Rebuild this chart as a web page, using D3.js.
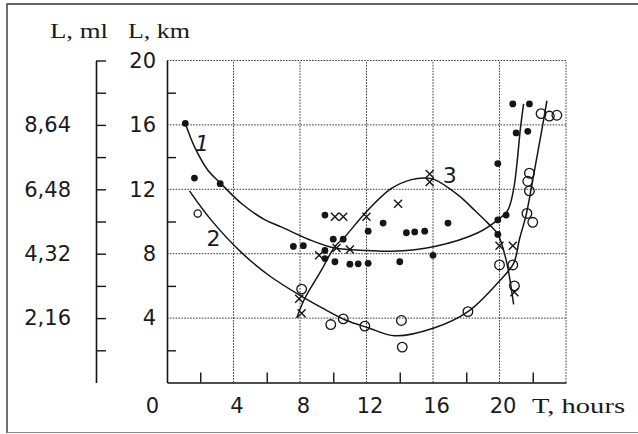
<!DOCTYPE html>
<html><head><meta charset="utf-8">
<script src="https://cdn.jsdelivr.net/npm/d3@7"></script>
<style>body{margin:0;background:#fff}svg{display:block}</style>
</head><body>
<svg id="c" width="638" height="434"></svg>
<script>
// ---- data ----
const kmTicks = [4, 8, 12, 16, 20];
const kmMinor = [2, 6, 10, 14, 18];
const xTicks = [0, 4, 8, 12, 16, 20];
const xMinor = [2, 6, 10, 14, 18, 22];
const gridX = [4, 8, 12, 16, 20, 24];
const gridY = [4, 8, 12, 16, 20];
const mlLabels = [2.16, 4.32, 6.48, 8.64];
const mlMinor = [1.08, 2.16, 3.24, 4.32, 5.40, 6.48, 7.56, 8.64, 9.72, 10.8];

const dots = [[1.1,16.1],[1.65,12.7],[3.2,12.35],[7.6,8.45],[8.2,8.5],[9.5,10.4],[10.0,8.9],[10.6,8.9],
  [9.5,8.2],[9.5,7.7],[10.1,7.5],[11.0,7.35],[11.5,7.37],[12.1,7.4],[12.1,9.4],[13.0,9.9],[14.0,7.5],
  [14.4,9.3],[14.9,9.35],[15.5,9.4],[16.0,7.9],[16.9,9.9],[19.9,13.6],[19.9,10.1],[20.4,10.4],[19.9,9.2],
  [20.8,17.3],[21.8,17.3],[21.0,15.5],[21.7,15.6]];
const circles = [[1.85,10.5],[8.1,5.8],[9.85,3.6],[10.6,3.95],[11.9,3.5],[14.1,3.85],[14.15,2.2],[18.1,4.4],
  [20.0,7.3],[20.8,7.3],[20.9,6.0],[21.65,10.5],[22.0,9.95],[21.8,13.0],[21.7,12.5],[21.8,11.9],
  [22.5,16.7],[23.0,16.55],[23.45,16.6]];
const crosses = [[7.95,5.2],[8.1,4.3],[9.15,7.9],[10.2,8.35],[11.0,8.26],[10.1,10.3],[10.6,10.3],[12.0,10.3],
  [13.9,11.1],[15.8,12.95],[15.8,12.45],[20.0,8.5],[20.8,8.5],[20.9,5.6]];

const curve1 = [[1.1,16.1],[1.65,14.65],[2.45,13.2],[3.2,12.4],[4.5,11.1],[5.9,10.1],[6.9,9.65],[8.5,8.9],
  [10.1,8.35],[12.1,8.2],[13.5,8.15],[16.1,8.45],[18.7,9.3],[19.9,10.1],[20.5,10.7],[20.85,12.0],
  [21.05,13.6],[21.25,15.7],[21.45,17.3]];
const curve2 = [[1.35,11.9],[2.65,10.1],[4.5,8.05],[6.2,6.6],[8.1,5.35],[9.3,4.65],[10.7,3.9],[12.1,3.4],
  [13.7,2.9],[16.1,3.4],[18.1,4.4],[19.9,6.2],[20.85,7.4],[21.2,8.9],[21.6,10.4],[21.9,12.0],[22.25,14.0],
  [22.6,16.0],[22.85,17.5]];
const curve3 = [[7.8,4.0],[8.3,5.25],[9.3,7.0],[10.1,8.45],[10.7,9.05],[11.9,10.5],[13.5,12.05],[14.7,12.6],
  [15.5,12.7],[16.1,12.6],[17.5,11.65],[18.5,10.7],[19.3,9.9],[19.9,9.2],[20.4,7.6],[20.85,4.85]];
const curveLabels = [{t:"1", x:2.1, y:14.9, it:true},{t:"2", x:2.8, y:9.0},{t:"3", x:17.0, y:12.9}];

// ---- drawing ----
const svg = d3.select("#c");
const x = d3.scaleLinear().domain([0, 24]).range([167, 566]);
const y = d3.scaleLinear().domain([0, 20]).range([382.5, 60.5]);
const yMl = d3.scaleLinear().domain([0, 10.8]).range([382.5, 60.5]);
const ink = "#151515";
const numFont = "DejaVu Sans, sans-serif";
const serif = "Liberation Serif, Times New Roman, serif";

// outer frame
svg.append("path").attr("d", "M7,433 L7,4 L638,4").attr("fill","none").attr("stroke","#333").attr("stroke-width",1.4);
svg.append("line").attr("x1",7).attr("x2",638).attr("y1",432.5).attr("y2",432.5).attr("stroke","#888").attr("stroke-width",1.2);

// grid (dotted)
const grid = svg.append("g").attr("stroke","#3a3a3a").attr("stroke-width",1).attr("stroke-dasharray","1.6,1.3");
grid.selectAll(".gx").data(gridX).join("line")
  .attr("x1", d=>x(d)).attr("x2", d=>x(d)).attr("y1", y(0)).attr("y2", y(20));
grid.selectAll(".gy").data(gridY).join("line")
  .attr("x1", x(0)).attr("x2", x(24)).attr("y1", d=>y(d)).attr("y2", d=>y(d));

function styleAxis(g){
  g.selectAll("path.domain").attr("stroke", ink).attr("stroke-width", 1.6);
  g.selectAll(".tick line").attr("stroke", ink).attr("stroke-width", 1.4);
  g.selectAll("text").attr("fill", "#1a1a1a").attr("font-family", numFont).attr("font-size", 21);
}

// km axis
svg.append("g").attr("transform", `translate(${x(0)},0)`)
  .call(d3.axisLeft(y).tickValues(kmTicks).tickSize(0).tickSizeOuter(0).tickPadding(11))
  .call(styleAxis);
svg.append("g").attr("transform", `translate(${x(0)},0)`)
  .call(d3.axisRight(y).tickValues(kmMinor).tickSize(9).tickSizeOuter(0).tickFormat(""))
  .call(styleAxis).call(g=>g.select(".domain").remove());

// x axis
const xa = svg.append("g").attr("transform", `translate(0,${y(0)})`)
  .call(d3.axisBottom(x).tickValues(xTicks).tickSize(0).tickSizeOuter(0).tickPadding(16))
  .call(styleAxis);
xa.selectAll(".tick text").attr("dx", d => d === 0 ? -15 : 3);
svg.append("g").attr("transform", `translate(0,${y(0)})`)
  .call(d3.axisTop(x).tickValues(xMinor).tickSize(10).tickSizeOuter(0).tickFormat(""))
  .call(styleAxis).call(g=>g.select(".domain").remove());

// ml axis
const mlX = 96;
svg.append("g").attr("transform", `translate(${mlX},0)`)
  .call(d3.axisRight(yMl).tickValues(mlMinor).tickSize(10).tickSizeOuter(0).tickFormat(""))
  .call(styleAxis);
svg.append("g").attr("transform", `translate(${mlX},0)`)
  .call(d3.axisLeft(yMl).tickValues(mlLabels).tickSize(0).tickPadding(25)
        .tickFormat(d => d3.format(".2f")(d).replace(".", ",")))
  .call(styleAxis).call(g=>g.select(".domain").remove());

// axis titles
const titles = [{t:"L, ml", x:50, w:58},{t:"L, km", x:128, w:62}];
svg.selectAll(".ttl").data(titles).join("text")
  .attr("x", d=>d.x).attr("y", 38).attr("font-family", serif).attr("font-size", 21)
  .attr("fill", "#1a1a1a").attr("textLength", d=>d.w).attr("lengthAdjust","spacingAndGlyphs").text(d=>d.t);
svg.append("text").attr("x", 532).attr("y", 413).attr("font-family", serif).attr("font-size", 21)
  .attr("fill", "#1a1a1a").attr("textLength", 93).attr("lengthAdjust","spacingAndGlyphs").text("T, hours");

// curves
const line = d3.line().x(d=>x(d[0])).y(d=>y(d[1])).curve(d3.curveCatmullRom.alpha(0.5));
svg.selectAll(".crv").data([curve1, curve2, curve3]).join("path")
  .attr("d", line).attr("fill","none").attr("stroke", ink).attr("stroke-width", 1.5);

// markers
svg.selectAll(".dot").data(dots).join("circle")
  .attr("cx", d=>x(d[0])).attr("cy", d=>y(d[1])).attr("r", 3.4).attr("fill", ink);
svg.selectAll(".oc").data(circles).join("circle")
  .attr("cx", d=>x(d[0])).attr("cy", d=>y(d[1])).attr("r", d => d[0] < 3 ? 3.6 : 4.8)
  .attr("fill", "#fff").attr("fill-opacity", 0).attr("stroke", ink).attr("stroke-width", 1.3);
const cs = 4;
svg.selectAll(".cx").data(crosses).join("path")
  .attr("d", d => { const cx = x(d[0]), cy = y(d[1]);
    return `M${cx-cs},${cy-cs}L${cx+cs},${cy+cs}M${cx-cs},${cy+cs}L${cx+cs},${cy-cs}`; })
  .attr("stroke", ink).attr("stroke-width", 1.4).attr("fill","none");

// curve labels
svg.selectAll(".cl").data(curveLabels).join("text")
  .attr("x", d=>x(d.x)).attr("y", d=>y(d.y)).attr("dy", "0.36em").attr("text-anchor","middle")
  .attr("font-family", numFont).attr("font-size", 22).attr("fill", "#1a1a1a")
  .attr("font-style", d => d.it ? "italic" : "normal").text(d=>d.t);
</script>
</body></html>
